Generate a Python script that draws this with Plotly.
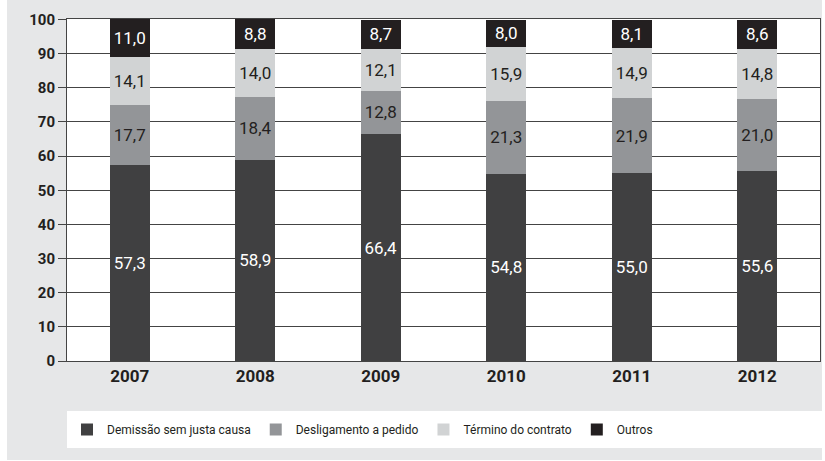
import plotly.graph_objects as go

years = ["2007", "2008", "2009", "2010", "2011", "2012"]
demissao = [57.3, 58.9, 66.4, 54.8, 55.0, 55.6]
desligamento = [17.7, 18.4, 12.8, 21.3, 21.9, 21.0]
termino = [14.1, 14.0, 12.1, 15.9, 14.9, 14.8]
outros = [11.0, 8.8, 8.7, 8.0, 8.1, 8.6]

series = [
    ("Demissão sem justa causa", demissao, "#404041", "white"),
    ("Desligamento a pedido", desligamento, "#939598", "#231f20"),
    ("Término do contrato", termino, "#d1d3d4", "#231f20"),
    ("Outros", outros, "#231f20", "white"),
]

FONT = "Roboto, Open Sans, sans-serif"

fig = go.Figure()
for name, vals, color, tcolor in series:
    fig.add_trace(go.Bar(
        x=years, y=vals, name=name,
        marker=dict(color=color, line=dict(width=0)),
        text=[f"{v:.1f}".replace(".", ",") for v in vals],
        textposition="inside", insidetextanchor="middle",
        textangle=0,
        textfont=dict(color=tcolor, size=17, family=FONT),
        cliponaxis=False,
    ))

# plot area: x 67..820, y 19..361 in a 825x461 page
fig.update_layout(
    barmode="stack",
    bargap=0.68,
    width=825, height=461,
    margin=dict(l=67, r=5, t=19, b=100, autoexpand=False),
    paper_bgcolor="#e6e7e8",
    plot_bgcolor="white",
    font=dict(family=FONT, color="#231f20"),
    uniformtext=dict(minsize=8, mode="show"),
    shapes=[
        # white legend panel
        dict(type="rect", xref="paper", yref="paper", x0=0, x1=1.0027, y0=-0.1462, y1=-0.2544,
             fillcolor="white", line=dict(width=0), layer="below"),
        # white page strips around the grey panel
        dict(type="rect", xref="paper", yref="paper", x0=-0.1, x1=-0.0797, y0=-0.35, y1=1.1,
             fillcolor="white", line=dict(width=0), layer="below"),
        dict(type="rect", xref="paper", yref="paper", x0=1.0027, x1=1.02, y0=-0.35, y1=1.1,
             fillcolor="white", line=dict(width=0), layer="below"),
        dict(type="rect", xref="paper", yref="paper", x0=-0.1, x1=1.02, y0=-0.35, y1=-0.2895,
             fillcolor="white", line=dict(width=0), layer="below"),
    ],
    legend=dict(
        orientation="h", x=0.0, xanchor="left", y=-0.2003, yanchor="middle",
        bgcolor="rgba(0,0,0,0)", font=dict(size=12, family=FONT, color="#231f20"),
        traceorder="normal", itemclick=False,
    ),
)
fig.update_xaxes(
    showline=True, linecolor="#444444", linewidth=1, mirror=True,
    tickfont=dict(size=17, family=FONT, color="#231f20", weight="bold"),
    ticks="", showgrid=False,
)
fig.update_yaxes(
    range=[0, 100.15], tickvals=[0, 10, 20, 30, 40, 50, 60, 70, 80, 90, 100],
    showline=True, linecolor="#444444", linewidth=1, mirror=True,
    showgrid=True, gridcolor="#444444", gridwidth=1,
    ticks="outside", ticklen=8, tickcolor="#444444",
    tickfont=dict(size=15, family=FONT, color="#231f20", weight="bold"),
    zeroline=False,
)

fig.write_html("out.html", config={"displayModeBar": False},
               post_script="document.body.style.margin='0';")
